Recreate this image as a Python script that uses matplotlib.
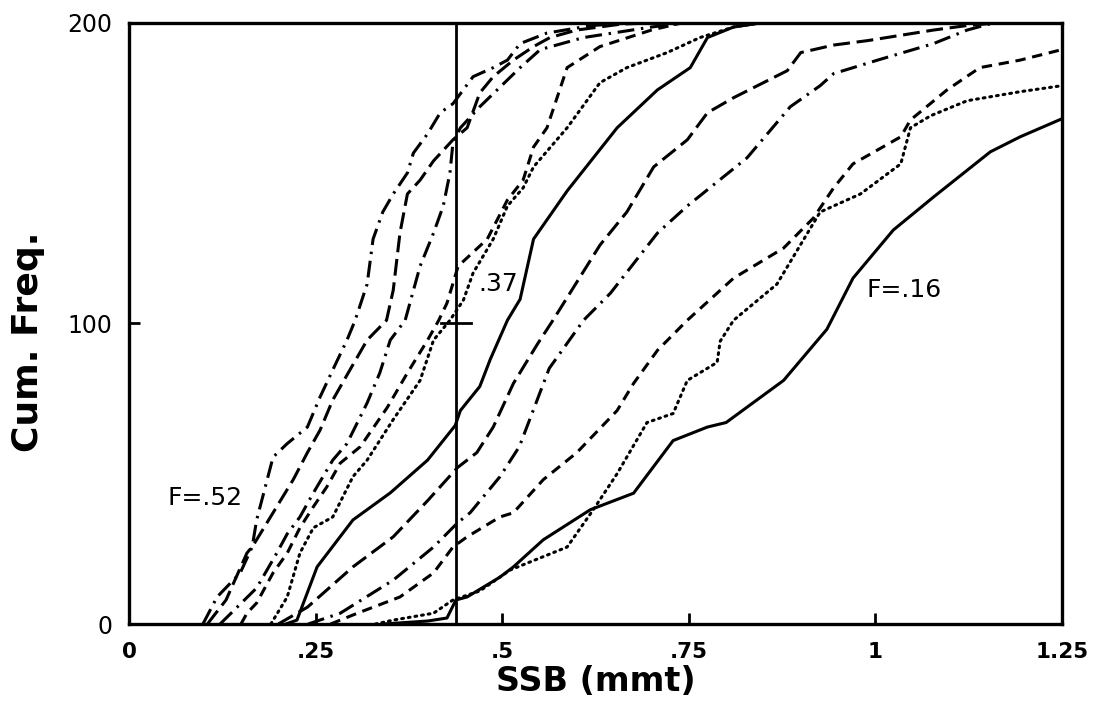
import matplotlib.pyplot as plt

plt.rcParams.update({"font.family": "DejaVu Sans"})

# ----------------------------------------------------------------------
# Cumulative frequency curves of SSB, one per F value

f52_x = [0.099, 0.118, 0.149, 0.165, 0.171, 0.193, 0.212, 0.239, 0.256, 0.273, 0.292, 0.303, 0.319, 0.327,
         0.34, 0.354, 0.373, 0.381, 0.40, 0.417, 0.434, 0.461, 0.488, 0.507, 0.524, 0.56, 0.62, 0.68]
f52_y = [0, 9, 17, 25.6, 34.6, 55.5, 60, 65.5, 75.5, 84.5, 94.4, 101, 113, 128,
         137, 143, 150, 156.6, 163, 170, 173, 182, 185, 187.5, 193, 196.5, 199, 200]

f49_x = [0.105, 0.13, 0.158, 0.166, 0.193, 0.22, 0.239, 0.256, 0.273, 0.296, 0.319, 0.345, 0.354, 0.363,
         0.373, 0.39, 0.408, 0.434, 0.453, 0.47, 0.488, 0.515, 0.542, 0.564, 0.60, 0.66, 0.72]
f49_y = [0, 8, 23.6, 26, 37, 48, 57, 64.5, 74.5, 84.5, 94.4, 101, 111, 130,
         143, 147.6, 154, 161, 165, 176.6, 182, 187.5, 192, 195, 197.5, 199.5, 200]

f46_x = [0.122, 0.171, 0.198, 0.212, 0.229, 0.247, 0.273, 0.292, 0.319, 0.336, 0.35, 0.37, 0.39, 0.408,
         0.421, 0.43, 0.434, 0.444, 0.47, 0.497, 0.524, 0.551, 0.609, 0.70, 0.75]
f46_y = [0, 12, 23.6, 30, 35.6, 43.6, 54.5, 60, 73.5, 83.5, 94.4, 101, 119, 130,
         139, 150, 160, 165, 172, 178.5, 185, 191, 195, 198.5, 200]

f40_x = [0.15, 0.158, 0.171, 0.193, 0.212, 0.229, 0.247, 0.265, 0.283, 0.31, 0.346, 0.373, 0.40, 0.415,
         0.426, 0.441, 0.48, 0.507, 0.528, 0.542, 0.56, 0.587, 0.631, 0.70, 0.743]
f40_y = [0, 3.6, 7, 17, 23.6, 32, 39, 45.6, 53.5, 59, 72, 83.5, 94.4, 101,
         106.7, 119, 128, 141, 147.6, 158.6, 165, 185, 192, 197.5, 200]

f37_x = [0.19, 0.212, 0.229, 0.247, 0.273, 0.30, 0.319, 0.354, 0.39, 0.408, 0.43, 0.448, 0.461, 0.488,
         0.507, 0.528, 0.542, 0.587, 0.631, 0.667, 0.721, 0.765, 0.81, 0.85]
f37_y = [0, 9, 23.6, 32, 35.6, 49, 54.5, 68, 81, 94.4, 101, 107.7, 116.7, 128,
         139, 145, 152, 165, 180, 185, 190, 195, 198.5, 200]

f31_x = [0.21, 0.225, 0.252, 0.30, 0.35, 0.40, 0.437, 0.444, 0.47, 0.484, 0.507, 0.524, 0.542, 0.587,
         0.654, 0.708, 0.752, 0.775, 0.81, 0.85]
f31_y = [0, 1.3, 19, 34.6, 43.6, 54.5, 66, 71, 79, 88, 101, 108, 128, 144,
         165, 177.6, 185, 195, 198.5, 200]

f28_x = [0.20, 0.239, 0.30, 0.354, 0.40, 0.44, 0.466, 0.488, 0.515, 0.547, 0.568, 0.631, 0.667, 0.703,
         0.748, 0.775, 0.81, 0.882, 0.90, 0.944, 0.99, 1.078, 1.123, 1.17]
f28_y = [0, 5.6, 19, 29, 41, 52, 57, 65.5, 80, 93, 101, 126, 137, 152,
         161, 170, 175, 184, 190, 192.5, 194, 197.5, 199, 200]

f25_x = [0.24, 0.283, 0.354, 0.408, 0.44, 0.457, 0.497, 0.523, 0.563, 0.609, 0.645, 0.708, 0.748, 0.828,
         0.886, 0.926, 0.944, 1.003, 1.078, 1.123, 1.16]
f25_y = [0, 3.6, 14.6, 25.6, 33.6, 37, 49, 59, 85, 101, 110, 130, 139, 155,
         172, 179, 183, 187.5, 193, 197.5, 200]

f22_x = [0.27, 0.306, 0.363, 0.408, 0.434, 0.453, 0.497, 0.515, 0.555, 0.60, 0.654, 0.676, 0.708, 0.748,
         0.81, 0.877, 0.917, 0.944, 0.97, 1.034, 1.047, 1.096, 1.14, 1.194, 1.25]
f22_y = [0, 3.6, 9, 17, 25.6, 29, 35.6, 37, 48, 57, 71, 80, 91, 101,
         115, 125, 135, 145, 153, 162, 167.6, 177.6, 185, 187.5, 191]

f19_x = [0.33, 0.354, 0.408, 0.434, 0.47, 0.511, 0.587, 0.622, 0.654, 0.694, 0.729, 0.748, 0.788, 0.792,
         0.81, 0.868, 0.926, 0.98, 1.034, 1.047, 1.074, 1.123, 1.194, 1.25]
f19_y = [0, 1.3, 3.6, 8, 11, 18, 25.6, 38, 50, 67, 70, 81, 87, 94,
         101, 113, 137, 143, 153, 165, 169, 174, 177, 179]

f16_x = [0.34, 0.40, 0.426, 0.438, 0.453, 0.497, 0.515, 0.555, 0.618, 0.676, 0.729, 0.775, 0.80, 0.877,
         0.935, 0.97, 1.024, 1.078, 1.154, 1.194, 1.25]
f16_y = [0, 1, 2, 8, 9, 15.6, 19, 28, 38, 43.5, 61, 65.5, 67, 81,
         98, 115, 131, 142, 157, 162, 168]

xticks = [0, 0.25, 0.5, 0.75, 1, 1.25]
xticklabels = ["0", ".25", ".5", ".75", "1", "1.25"]
yticks = [0, 100, 200]
yticklabels = ["0", "100", "200"]

# reference SSB level and the median mark on it
ssb_ref = 0.438
median_mark = 100

# ----------------------------------------------------------------------

SOLID = "-"
DOT = (0, (0.6, 1.6))
SHORTDASH = (0, (3.4, 2.2))
LONGDASH = (0, (5.5, 2.2))
DASHDOT = (0, (5.5, 2.2, 0.8, 2.2))

curves = [
    (f52_x, f52_y, DASHDOT),
    (f49_x, f49_y, LONGDASH),
    (f46_x, f46_y, DASHDOT),
    (f40_x, f40_y, SHORTDASH),
    (f37_x, f37_y, DOT),
    (f31_x, f31_y, SOLID),
    (f28_x, f28_y, LONGDASH),
    (f25_x, f25_y, DASHDOT),
    (f22_x, f22_y, SHORTDASH),
    (f19_x, f19_y, DOT),
    (f16_x, f16_y, SOLID),
]

fig = plt.figure(figsize=(10.98, 7.08), dpi=100)
ax = fig.add_axes([0.1175, 0.1186, 0.8497, 0.8496])

for xs, ys, ls in curves:
    if ls == DOT:
        ax.plot(xs, ys, color="black", ls=ls, lw=2.2, dash_capstyle="round")
    else:
        ax.plot(xs, ys, color="black", ls=ls, lw=2.2, dash_capstyle="butt")

# Vertical reference line with the crossbar
ax.axvline(ssb_ref, color="black", lw=2)
ax.plot([ssb_ref - 0.02, ssb_ref + 0.02], [median_mark, median_mark], color="black", lw=2)

# Curve labels
ax.text(0.052, 42, "F=.52", fontsize=18, ha="left", va="center")
ax.text(0.468, 113, ".37", fontsize=18, ha="left", va="center")
ax.text(0.988, 111, "F=.16", fontsize=18, ha="left", va="center")

# Axis finagling
ax.set_xlim(0, 1.25)
ax.set_ylim(0, 200)
ax.set_xticks(xticks)
ax.set_xticklabels(xticklabels, fontsize=15.5, fontweight="bold")
ax.set_yticks(yticks)
ax.set_yticklabels(yticklabels, fontsize=17)
ax.tick_params(axis="x", direction="in", length=8, width=2, pad=13)
ax.tick_params(axis="y", direction="in", length=8, width=2, pad=12)
for spine in ax.spines.values():
    spine.set_linewidth(2.4)

ax.set_xlabel("SSB (mmt)", fontsize=24, fontweight="bold", labelpad=2)
ax.set_ylabel("Cum. Freq.", fontsize=26, fontweight="bold")
ax.yaxis.set_label_coords(-0.09, 0.47)

plt.savefig("out.png", dpi=100)
